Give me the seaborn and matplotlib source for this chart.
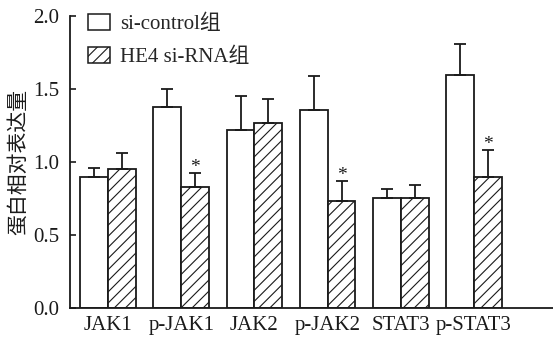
import matplotlib
matplotlib.use("Agg")
import matplotlib.pyplot as plt
from matplotlib.patches import Patch
import pandas as pd
import seaborn as sns

# values
targets = ["JAK1", "p-JAK1", "JAK2", "p-JAK2", "STAT3", "p-STAT3"]
groups = ["si-control组", "HE4 si-RNA组"]
control_mean = [0.90, 1.38, 1.22, 1.355, 0.755, 1.595]
control_err = [0.06, 0.12, 0.23, 0.235, 0.06, 0.215]
sirna_mean = [0.95, 0.83, 1.265, 0.735, 0.755, 0.90]
sirna_err = [0.11, 0.095, 0.165, 0.135, 0.085, 0.18]
significant = [False, True, False, True, False, True]

sns.set_style("ticks")
plt.rcParams["font.family"] = ["Liberation Serif", "Noto Sans CJK SC"]
plt.rcParams["hatch.linewidth"] = 0.8

df = pd.DataFrame({
    "target": targets * 2,
    "group": [groups[0]] * len(targets) + [groups[1]] * len(targets),
    "value": control_mean + sirna_mean,
})

INK = "#1a1a1a"
FS = 15
fig = plt.figure(figsize=(5.53, 3.40), dpi=100)
ax = fig.add_axes([0.1266, 0.094, 0.8734, 0.859])

sns.barplot(data=df, x="target", y="value", hue="group", order=targets,
            hue_order=groups, palette=["white", "white"], width=0.76,
            edgecolor=INK, linewidth=1.3, errorbar=None, legend=False,
            ax=ax)

bars = ax.patches[:2 * len(targets)]
errs = control_err + sirna_err
means = control_mean + sirna_mean
for i, bar in enumerate(bars):
    if i >= len(targets):
        bar.set_hatch("///")
    xc = bar.get_x() + bar.get_width() / 2
    ax.errorbar(xc, means[i], yerr=[[0], [errs[i]]], fmt="none",
                ecolor=INK, elinewidth=1.3, capsize=4.5, capthick=1.3,
                zorder=1)

for j, sig in enumerate(significant):
    if sig:
        bar = bars[len(targets) + j]
        xc = bar.get_x() + bar.get_width() / 2
        ax.text(xc, sirna_mean[j] + sirna_err[j] - 0.02, "*",
                ha="center", va="bottom", fontsize=14, color=INK)

ax.set_xlim(-0.52, 6.08)
ax.set_ylim(0, 2.0)
ax.set_yticks([0.0, 0.5, 1.0, 1.5, 2.0])
ax.set_yticklabels([f"{v:.1f}" for v in [0.0, 0.5, 1.0, 1.5, 2.0]])
ax.tick_params(axis="y", direction="in", length=4, width=1.2,
               labelsize=FS, colors=INK, pad=8)
ax.tick_params(axis="x", length=0, labelsize=FS, colors=INK, pad=6)
ax.set_xlabel("")
ax.set_ylabel("蛋白相对表达量", fontsize=FS, color=INK,
              family=["Noto Sans CJK SC"], labelpad=3)
for side in ["top", "right"]:
    ax.spines[side].set_visible(False)
for side in ["left", "bottom"]:
    ax.spines[side].set_linewidth(1.3)
    ax.spines[side].set_color(INK)

handles = [Patch(facecolor="white", edgecolor=INK, linewidth=1.1),
           Patch(facecolor="white", edgecolor=INK, linewidth=1.1,
                 hatch="///")]
ax.legend(handles, groups, loc="upper left", bbox_to_anchor=(0.02, 1.035),
          frameon=False, fontsize=FS, handlelength=1.05, handleheight=0.78,
          handletextpad=0.5, labelspacing=0.62, borderaxespad=0)

fig.savefig("out.png", dpi=100)
